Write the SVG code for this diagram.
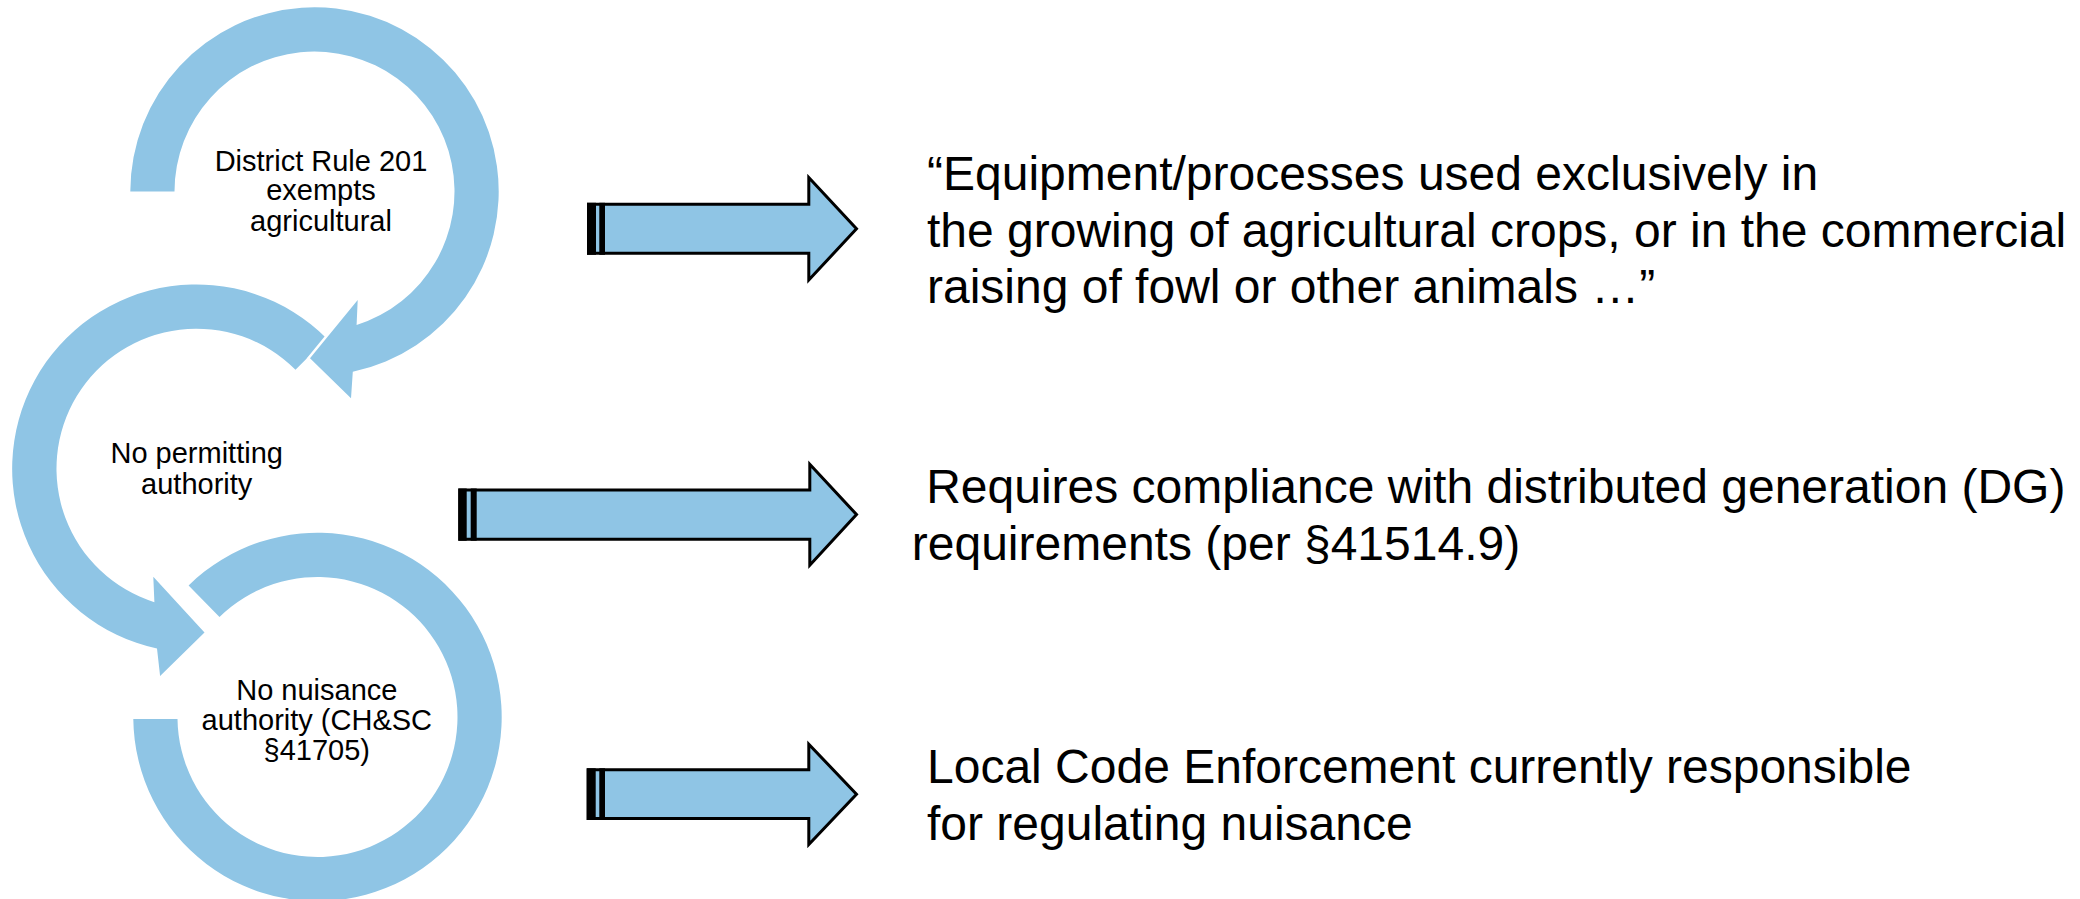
<svg xmlns="http://www.w3.org/2000/svg" width="2080" height="899" viewBox="0 0 2080 899">
  <style>
    .ring { fill: #8FC5E5; stroke: #FFFFFF; stroke-width: 5; paint-order: stroke; stroke-linejoin: miter; }
    .lbl { font-family: "Liberation Sans", Arial, sans-serif; font-size: 29px; fill: #000000; text-anchor: middle; }
    .note { font-family: "Liberation Sans", Arial, sans-serif; font-size: 48px; fill: #000000; }
    .arrow { fill: #8FC5E5; stroke: #000000; stroke-width: 3; stroke-linejoin: miter; }
    .stripe { fill: #000000; }
  </style>
  <rect width="2080" height="899" fill="#FFFFFF"/>

  <!-- bottom ring: nuisance authority -->
  <g id="step-nuisance">
    <path class="ring" d="M 133.3 719 A 184.2 184.2 0 1 0 188.6 585.4 L 219.5 617 A 140 140 0 1 1 177.5 719 Z"/>
    <text class="lbl" x="316.8" y="700">No nuisance</text>
    <text class="lbl" x="316.8" y="730">authority (CH&amp;SC</text>
    <text class="lbl" x="316.8" y="759.5">§41705)</text>
  </g>

  <!-- middle ring: permitting authority -->
  <g id="step-permitting">
    <path class="ring" d="M 326.7 338.5 A 184.2 184.2 0 1 0 157 648.6 L 160.1 676 L 204.5 632.5 L 153.3 576.7 L 154.4 602.2 A 140 140 0 1 1 295.5 369.7 Z"/>
    <text class="lbl" x="196.7" y="463.3">No permitting</text>
    <text class="lbl" x="196.7" y="493.5">authority</text>
  </g>

  <!-- top ring: District Rule 201 -->
  <g id="step-rule201">
    <path class="ring" d="M 130.3 191.5 A 184.2 184.2 0 1 1 352.8 371.7 L 351 398.3 L 310 358.3 L 357.7 300 L 356.6 325 A 140 140 0 1 0 174.5 191.5 Z"/>
    <text class="lbl" x="321" y="170.7">District Rule 201</text>
    <text class="lbl" x="321" y="200.3">exempts</text>
    <text class="lbl" x="321" y="230.5">agricultural</text>
  </g>

  <!-- striped arrows leading to the notes -->
  <g id="connectors">
    <g id="arrow-1">
      <polygon class="arrow" points="588.5,204.3 808.8,204.3 808.8,177.5 856.5,228.8 808.8,280 808.8,253.3 588.5,253.3"/>
      <rect class="stripe" x="587" y="202.8" width="9" height="52"/>
      <rect class="stripe" x="599.3" y="202.8" width="5.7" height="52"/>
    </g>
    <g id="arrow-2">
      <polygon class="arrow" points="459.8,490 809.8,490 809.8,464.2 856.5,514.5 809.8,565.2 809.8,539.2 459.8,539.2"/>
      <rect class="stripe" x="458.3" y="488.5" width="8.4" height="52.2"/>
      <rect class="stripe" x="470.7" y="488.5" width="6" height="52.2"/>
    </g>
    <g id="arrow-3">
      <polygon class="arrow" points="588.2,769.8 808.8,769.8 808.8,744.2 856.5,794.2 808.8,844.5 808.8,818.5 588.2,818.5"/>
      <rect class="stripe" x="586.7" y="768.3" width="9" height="51.7"/>
      <rect class="stripe" x="599.3" y="768.3" width="5.7" height="51.7"/>
    </g>
  </g>

  <!-- notes -->
  <g id="note-1">
    <text class="note" x="927" y="190">“Equipment/processes used exclusively in</text>
    <text class="note" x="927" y="246.5">the growing of agricultural crops, or in the commercial</text>
    <text class="note" x="927" y="303">raising of fowl or other animals …”</text>
  </g>
  <g id="note-2">
    <text class="note" x="926.2" y="503">Requires compliance with distributed generation (DG)</text>
    <text class="note" x="911.8" y="560">requirements (per §41514.9)</text>
  </g>
  <g id="note-3">
    <text class="note" x="927" y="783">Local Code Enforcement currently responsible</text>
    <text class="note" x="927" y="839.5">for regulating nuisance</text>
  </g>
</svg>
